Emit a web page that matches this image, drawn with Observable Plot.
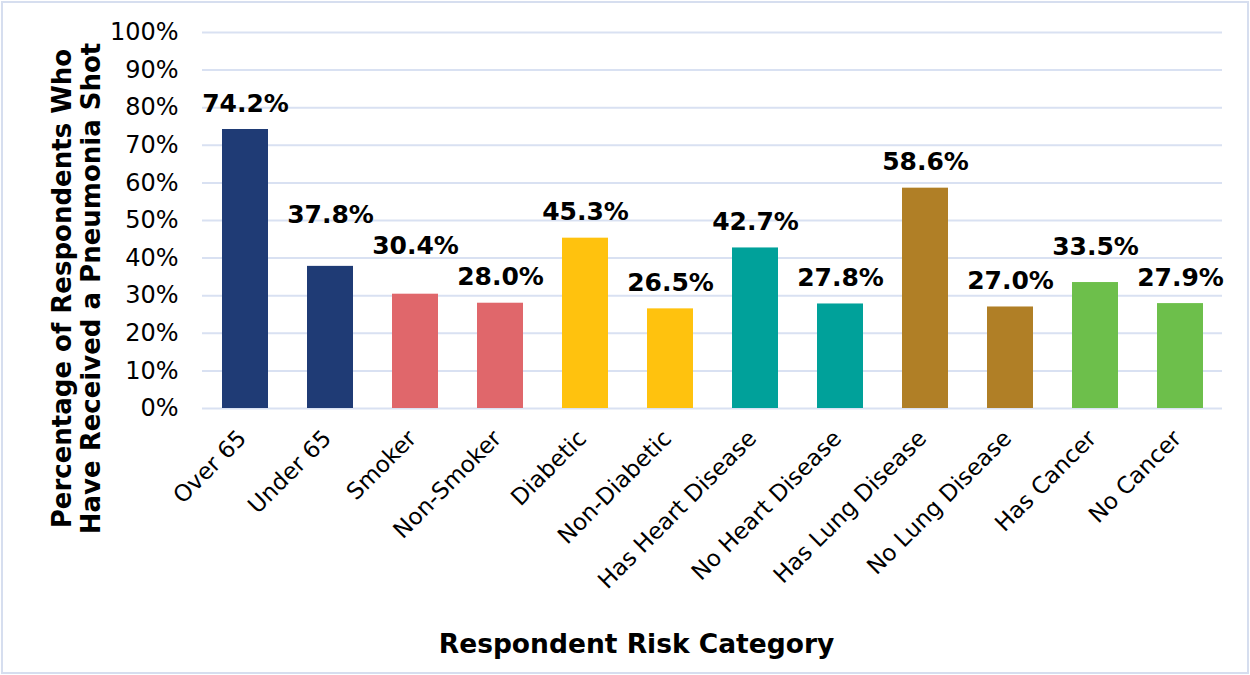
<!DOCTYPE html>
<html><head><meta charset="utf-8">
<script src="https://cdn.jsdelivr.net/npm/d3@7"></script>
<script src="https://cdn.jsdelivr.net/npm/@observablehq/plot@0.6"></script>
<style>
html,body{margin:0;padding:0;background:#fff;}
#chart{width:1250px;height:675px;position:relative;overflow:hidden;}
#border{position:absolute;left:1px;top:1px;width:1248px;height:673px;box-sizing:border-box;border:2px solid #d6deef;pointer-events:none;}
</style></head><body><div id="chart"><div id="border"></div></div>
<script>
const categories = ["Over 65","Under 65","Smoker","Non-Smoker","Diabetic","Non-Diabetic","Has Heart Disease","No Heart Disease","Has Lung Disease","No Lung Disease","Has Cancer","No Cancer"];
const values = [74.2, 37.8, 30.4, 28.0, 45.3, 26.5, 42.7, 27.8, 58.6, 27.0, 33.5, 27.9];
const groups = ["Age","Age","Smoking","Smoking","Diabetes","Diabetes","Heart","Heart","Lung","Lung","Cancer","Cancer"];
const groupNames = ["Age","Smoking","Diabetes","Heart","Lung","Cancer"];
const groupColors = ["#1f3b75","#e0676b","#ffc20e","#00a19a","#b07f26","#6dbf4b"];
const yTicks = [0,10,20,30,40,50,60,70,80,90,100];
const yTitle = "Percentage of Respondents Who\nHave Received a Pneumonia Shot";
const xTitle = "Respondent Risk Category";

const W = 1250, H = 675, mL = 202, mR = 28, mT = 32, mB = 267;
const yPx = d3.scaleLinear([0, 100], [H - mB, mT]);

// data labels: sit above each bar; if a label would collide with its right neighbour, lift it above that one
const labelGap = 26, labelStep = 31, labelMin = 26;
const labelPx = values.map(v => yPx(v) - labelGap);
for (let i = values.length - 2; i >= 0; i--) {
  if (Math.abs(labelPx[i] - labelPx[i + 1]) < labelMin) labelPx[i] = Math.min(labelPx[i], labelPx[i + 1] - labelStep);
}

const data = categories.map((c, i) => ({cat: c, value: values[i], group: groups[i], labelY: yPx.invert(labelPx[i])}));

const chart = Plot.plot({
  width: W,
  height: H,
  marginLeft: mL,
  marginRight: mR,
  marginTop: mT,
  marginBottom: mB,
  style: {fontFamily: "'DejaVu Sans', Verdana, sans-serif", color: "#000", background: "#fff"},
  x: {domain: categories, paddingInner: 0.46, paddingOuter: 0.23, axis: null},
  y: {domain: [0, 100], axis: null},
  color: {domain: groupNames, range: groupColors},
  marks: [
    Plot.gridY(yTicks, {stroke: "#d9e1f2", strokeWidth: 2, strokeOpacity: 1}),
    Plot.barY(data, {x: "cat", y: "value", fill: "group"}),
    Plot.axisY(yTicks, {tickSize: 0, tickPadding: 24, fontSize: 24, tickFormat: d => d + "%", label: null}),
    Plot.axisX({tickSize: 0, tickRotate: -45, tickPadding: 26, dx: -3, fontSize: 23, label: null}),
    Plot.text(data, {x: "cat", y: "labelY", text: d => d.value.toFixed(1) + "%", fontSize: 25, fontWeight: "bold", lineAnchor: "middle", fill: "#000"}),
    Plot.text([yTitle], {frameAnchor: "left", rotate: -90, dx: -126, dy: 68, fontSize: 26, fontWeight: "bold", lineHeight: 1.1, textAnchor: "middle", lineAnchor: "middle", fill: "#000"}),
    Plot.text([xTitle], {frameAnchor: "bottom", dx: -76, dy: 236, fontSize: 26.5, fontWeight: "bold", lineAnchor: "middle", fill: "#000"})
  ]
});
document.getElementById("chart").prepend(chart);
</script>
</body></html>
